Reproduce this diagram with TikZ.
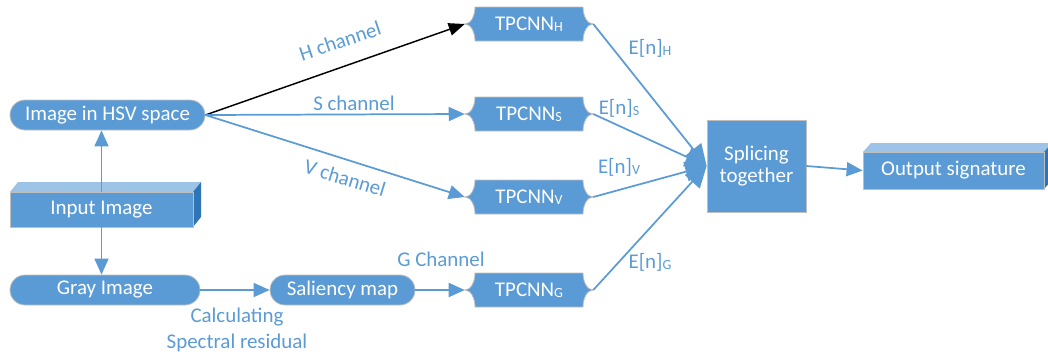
\documentclass[tikz,border=0pt]{standalone}
\usepackage{fontspec}
\setmainfont{Carlito}
\usetikzlibrary{arrows.meta}
\definecolor{myblue}{HTML}{5B9BD5}
\definecolor{toptint}{HTML}{9DC3E6}
\definecolor{sidedark}{HTML}{2E75B6}
\definecolor{bordergray}{HTML}{BFBFBF}
\newcommand\mysub[1]{\raisebox{-0.1ex}{\fontsize{10.5}{12}\selectfont #1}}
\tikzset{
  mainfont/.style={font=\fontsize{15.7}{18}\selectfont},
  lbl/.style={mainfont, text=myblue, inner sep=0pt},
  pill/.style={mainfont, rectangle, rounded corners=11.25pt, minimum height=22.5pt,
    fill=myblue, draw=bordergray, line width=0.6pt, text=white, inner sep=0pt},
  tptext/.style={mainfont, rectangle, minimum width=96pt, minimum height=25.5pt,
    inner sep=0pt, text=white},
  tpfill/.style={fill=myblue, draw=bordergray, line width=0.6pt},
  frontface/.style={mainfont, rectangle, fill=myblue, draw=bordergray, line width=0.6pt,
    text=white, inner sep=0pt},
  conn/.style={myblue, line width=1.3pt, -{Triangle[length=12pt,width=10.5pt]}},
  bigconn/.style={myblue, line width=1.3pt, -{Triangle[length=16pt,width=15pt]}},
  blackconn/.style={black, line width=1.1pt, -{Triangle[length=12pt,width=9.5pt]}},
}
\begin{document}
\begin{tikzpicture}[x=0.75pt,y=-0.75pt]
\useasboundingbox (0,0) rectangle (1048,357);

% TPCNN shapes
\foreach \yy in {24,114,197,290}{
  \begin{scope}[shift={(529,\yy)}]
    \filldraw[tpfill] (-54,-17) -- (54,-17)
      .. controls (54,-7.6) and (58.5,0) .. (64,0)
      .. controls (58.5,0) and (54,7.6) .. (54,17)
      -- (-54,17)
      .. controls (-54,7.6) and (-58.5,0) .. (-64,0)
      .. controls (-58.5,0) and (-54,-7.6) .. (-54,-17) -- cycle;
  \end{scope}
}
\node[tptext] (th) at (529,24) {TPCNN\mysub{H}};
\node[tptext] (ts) at (529,114) {TPCNN\mysub{S}};
\node[tptext] (tv) at (529,197) {TPCNN\mysub{V}};
\node[tptext] (tg) at (529,290) {TPCNN\mysub{G}};

% pills
\node[pill, minimum width=146.25pt] (hsv) at (107.5,115) {Image in HSV space};
\node[pill, minimum width=142.5pt] (gray) at (105,290) {Gray Image};
\node[pill, minimum width=108.75pt] (sal) at (342.5,290) {Saliency map};

% splicing
\node[frontface, minimum width=74.25pt, minimum height=69pt, align=center] (spl) at (756.5,166)
  {Splicing\\[-2pt]together};

% input image 3D box
\fill[toptint] (10,192) -- (18,182) -- (201,182) -- (193,192) -- cycle;
\fill[sidedark] (193,192) -- (201,182) -- (201,217) -- (193,227) -- cycle;
\node[frontface, minimum width=137.25pt, minimum height=26.25pt] (inp) at (101.5,209.5) {Input Image};

% output signature 3D box
\fill[toptint] (863,152) -- (871,143) -- (1052,143) -- (1044,152) -- cycle;
\fill[sidedark] (1044,152) -- (1052,143) -- (1052,180) -- (1044,189) -- cycle;
\node[frontface, minimum width=135.75pt, minimum height=27.75pt] (out) at (953.5,170.5) {Output signature};

% connectors
\draw[blackconn] (hsv.east) -- (th.west);
\draw[conn] (hsv.east) -- (ts.west);
\draw[conn] (hsv.east) -- (tv.west);
\draw[conn] (inp.north) -- (inp.north |- hsv.south);
\draw[conn] (inp.south) -- (inp.south |- gray.north);
\draw[conn] (gray.east) -- (sal.west);
\draw[conn] (sal.east) -- (tg.west);
\draw[bigconn] (th.east) -- (spl.west);
\draw[bigconn] (ts.east) -- (spl.west);
\draw[bigconn] (tv.east) -- (spl.west);
\draw[bigconn] (tg.east) -- (spl.west);
\draw[conn] (spl.east) -- (out.west);

% labels
\node[lbl, rotate=18.5] (lh) at (340,41) {H channel};
\node[lbl] (ls) at (354,103) {S channel};
\node[lbl, rotate=-17] (lv) at (345,178) {V channel};
\node[lbl] (lg) at (441,259) {G Channel};
\node[lbl, align=center] (lc) at (237,330) {Calculating\\[1pt]Spectral residual};
\node[lbl] (eh) at (650,48) {E[n]\mysub{H}};
\node[lbl] (es) at (619,108) {E[n]\mysub{S}};
\node[lbl] (ev) at (619,167) {E[n]\mysub{V}};
\node[lbl] (eg) at (650,262) {E[n]\mysub{G}};
\end{tikzpicture}
\end{document}
